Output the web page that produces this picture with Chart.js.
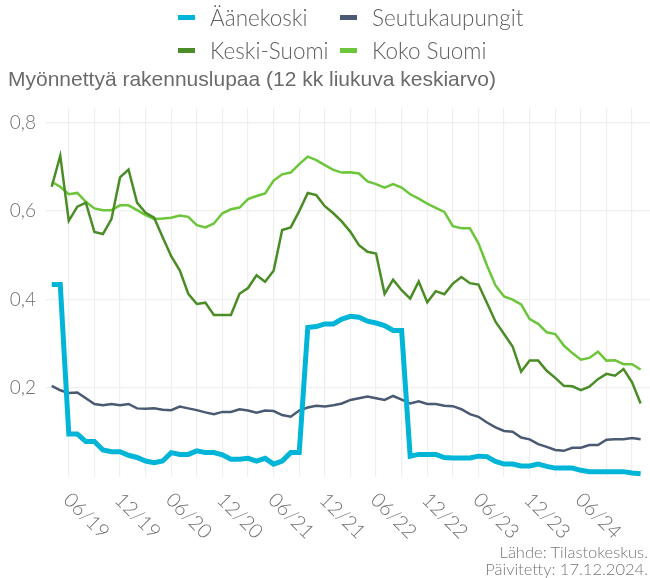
<!DOCTYPE html>
<html>
<head>
<meta charset="utf-8">
<script src="https://cdn.jsdelivr.net/npm/chart.js@4.4.1/dist/chart.umd.min.js"></script>
<style>
  body { margin: 0; background: #fff; }
  #wrap { position: relative; width: 650px; height: 578px; }
  #legend {
    position: absolute; left: 178px; top: 4px;
    display: grid; grid-template-columns: 162px 200px; row-gap: 6px;
    font-family: Lato, sans-serif; font-weight: 300; font-size: 22.5px; color: #5f5f5f;
  }
  .item { display: flex; align-items: center; height: 27px; white-space: nowrap; }
  .sw { width: 17px; height: 5px; margin-right: 15px; }
  #caption {
    position: absolute; right: 2px; top: 544px; text-align: right;
    font-family: Lato, sans-serif; font-weight: 300; font-size: 16.5px; line-height: 17px; color: #777;
  }
</style>
</head>
<body>
<div id="wrap">
  <canvas id="chart" width="650" height="578"></canvas>
  <div id="legend"></div>
  <div id="caption">Lähde: Tilastokeskus.<br>Päivitetty: 17.12.2024.</div>
</div>
<script>
const months = [
  '04/19','05/19','06/19','07/19','08/19','09/19','10/19','11/19','12/19',
  '01/20','02/20','03/20','04/20','05/20','06/20','07/20','08/20','09/20','10/20','11/20','12/20',
  '01/21','02/21','03/21','04/21','05/21','06/21','07/21','08/21','09/21','10/21','11/21','12/21',
  '01/22','02/22','03/22','04/22','05/22','06/22','07/22','08/22','09/22','10/22','11/22','12/22',
  '01/23','02/23','03/23','04/23','05/23','06/23','07/23','08/23','09/23','10/23','11/23','12/23',
  '01/24','02/24','03/24','04/24','05/24','06/24','07/24','08/24','09/24','10/24','11/24','12/24',
  '01/25'
];
const tickLabels = ['06/19','12/19','06/20','12/20','06/21','12/21','06/22','12/22','06/23','12/23','06/24'];

const aanekoski = [
  0.434, 0.434, 0.096, 0.096, 0.079, 0.079, 0.060, 0.056, 0.056, 0.048,
  0.043, 0.035, 0.031, 0.035, 0.054, 0.050, 0.050, 0.058, 0.054, 0.054,
  0.049, 0.039, 0.039, 0.041, 0.035, 0.041, 0.028, 0.035, 0.054, 0.054,
  0.337, 0.339, 0.345, 0.345, 0.356, 0.362, 0.360, 0.351, 0.347, 0.341,
  0.330, 0.330, 0.046, 0.050, 0.050, 0.050, 0.043, 0.042, 0.042, 0.042,
  0.046, 0.045, 0.034, 0.028, 0.028, 0.024, 0.024, 0.028, 0.023, 0.019,
  0.019, 0.019, 0.014, 0.011, 0.011, 0.011, 0.011, 0.011, 0.008, 0.006
];
const seutukaupungit = [
  0.205, 0.195, 0.189, 0.190, 0.177, 0.164, 0.161, 0.164, 0.161, 0.164,
  0.154, 0.153, 0.154, 0.151, 0.150, 0.158, 0.154, 0.150, 0.145, 0.141,
  0.146, 0.146, 0.152, 0.149, 0.144, 0.149, 0.148, 0.139, 0.135, 0.149,
  0.156, 0.160, 0.158, 0.161, 0.165, 0.173, 0.177, 0.181, 0.177, 0.173,
  0.182, 0.174, 0.165, 0.170, 0.164, 0.164, 0.160, 0.159, 0.152, 0.141,
  0.135, 0.122, 0.111, 0.103, 0.101, 0.088, 0.084, 0.073, 0.067, 0.060,
  0.058, 0.065, 0.065, 0.071, 0.071, 0.083, 0.084, 0.084, 0.087, 0.084
];
const keskiSuomi = [
  0.655, 0.725, 0.578, 0.610, 0.619, 0.553, 0.548, 0.582, 0.676, 0.694,
  0.619, 0.596, 0.585, 0.541, 0.498, 0.466, 0.413, 0.390, 0.393, 0.365,
  0.365, 0.365, 0.413, 0.426, 0.455, 0.440, 0.465, 0.557, 0.563, 0.600,
  0.641, 0.636, 0.611, 0.595, 0.576, 0.553, 0.523, 0.508, 0.504, 0.413,
  0.445, 0.421, 0.402, 0.441, 0.394, 0.419, 0.412, 0.436, 0.451, 0.437,
  0.434, 0.392, 0.350, 0.322, 0.294, 0.237, 0.262, 0.262, 0.239, 0.223,
  0.205, 0.204, 0.195, 0.203, 0.220, 0.232, 0.228, 0.243, 0.213, 0.165
];
const kokoSuomi = [
  0.666, 0.655, 0.638, 0.641, 0.621, 0.606, 0.602, 0.602, 0.613, 0.613,
  0.602, 0.591, 0.582, 0.583, 0.585, 0.590, 0.587, 0.568, 0.563, 0.572,
  0.595, 0.604, 0.608, 0.627, 0.634, 0.640, 0.669, 0.683, 0.687, 0.706,
  0.723, 0.715, 0.704, 0.693, 0.687, 0.688, 0.685, 0.667, 0.661, 0.653,
  0.661, 0.653, 0.638, 0.628, 0.617, 0.607, 0.598, 0.566, 0.561, 0.561,
  0.527, 0.477, 0.432, 0.407, 0.400, 0.389, 0.356, 0.345, 0.326, 0.322,
  0.296, 0.279, 0.264, 0.268, 0.282, 0.262, 0.263, 0.254, 0.254, 0.242
];

const yTicks = [0.2, 0.4, 0.6, 0.8];

const series = [
  { label: 'Äänekoski', data: aanekoski, color: '#00b5d8', width: 5 },
  { label: 'Seutukaupungit', data: seutukaupungit, color: '#4a5a72', width: 2.5 },
  { label: 'Keski-Suomi', data: keskiSuomi, color: '#4a8c25', width: 2.5 },
  { label: 'Koko Suomi', data: kokoSuomi, color: '#6cc63a', width: 2.5 },
];

// legend, 2 x 2 like the original
const legend = document.getElementById('legend');
series.forEach(s => {
  const el = document.createElement('div');
  el.className = 'item';
  el.innerHTML = '<span class="sw" style="background:' + s.color + '"></span>' + s.label;
  legend.appendChild(el);
});

// x labels rotated down to the right, drawn by hand
const xLabels = {
  id: 'xLabels',
  afterDraw(chart) {
    const ctx = chart.ctx;
    const xs = chart.scales.x;
    ctx.save();
    ctx.font = '300 20px Lato';
    ctx.fillStyle = '#6f6f6f';
    ctx.textAlign = 'left';
    ctx.textBaseline = 'middle';
    months.forEach((m, i) => {
      if (!tickLabels.includes(m)) return;
      const x = xs.getPixelForValue(i);
      ctx.save();
      ctx.translate(x - 2, chart.chartArea.bottom + 20);
      ctx.rotate(Math.PI / 4);
      ctx.fillText(m, 0, 0);
      ctx.restore();
    });
    ctx.restore();
  }
};

new Chart(document.getElementById('chart'), {
  type: 'line',
  data: {
    datasets: series.map(s => ({
      label: s.label,
      data: s.data.map((v, i) => ({ x: i, y: v })),
      borderColor: s.color,
      backgroundColor: s.color,
      borderWidth: s.width,
      pointRadius: 0,
      tension: 0,
      fill: false,
    }))
  },
  options: {
    responsive: false,
    animation: false,
    layout: { padding: { left: 8, right: 0, top: 0, bottom: 0 } },
    plugins: {
      legend: { display: false },
      tooltip: { enabled: false },
      title: {
        display: true,
        text: 'Myönnettyä rakennuslupaa (12 kk liukuva keskiarvo)',
        align: 'start',
        color: '#6b6b6b',
        font: { family: 'Liberation Sans', size: 21, weight: 'normal' },
        padding: { top: 68, bottom: 14.8 }
      }
    },
    scales: {
      x: {
        type: 'linear',
        min: -0.67,
        max: 70.1,
        afterBuildTicks: scale => {
          scale.ticks = months
            .map((m, i) => ({ m: +m.slice(0, 2), i }))
            .filter(d => d.m % 3 === 0)
            .map(d => ({ value: d.i }));
        },
        afterFit: scale => { scale.height = 101.5; },
        ticks: { display: false },
        grid: { color: '#efefef', lineWidth: 1.2, drawTicks: false },
        border: { display: false }
      },
      y: {
        min: 0,
        max: 0.833,
        afterBuildTicks: scale => {
          scale.ticks = yTicks.map(v => ({ value: v }));
        },
        afterFit: scale => { scale.width = 38; },
        ticks: {
          padding: 10,
          color: '#6f6f6f',
          font: { family: 'Lato', size: 19, weight: 300 },
          callback: v => v.toFixed(1).replace('.', ',')
        },
        grid: { color: '#efefef', lineWidth: 1.2, drawTicks: false },
        border: { display: false }
      }
    }
  },
  plugins: [xLabels]
});
</script>
</body>
</html>
